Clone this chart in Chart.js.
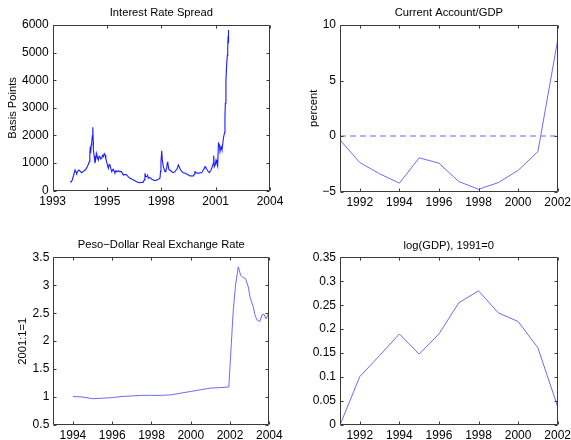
<!DOCTYPE html>
<html>
<head>
<meta charset="utf-8">
<script src="https://cdn.jsdelivr.net/npm/chart.js@4.4.1/dist/chart.umd.min.js"></script>
<style>
  html, body { margin: 0; padding: 0; background: #fff; width: 571px; height: 440px; overflow: hidden; }
  canvas { position: absolute; }
</style>
</head>
<body>
<canvas id="c1" width="285" height="220" style="left:0px;top:0px"></canvas>
<canvas id="c2" width="286" height="220" style="left:285px;top:0px"></canvas>
<canvas id="c3" width="285" height="208" style="left:0px;top:232px"></canvas>
<canvas id="c4" width="286" height="208" style="left:285px;top:232px"></canvas>
<script>
// ---------- DATA ----------
// Panel 1: Interest Rate Spread (basis points)
const spreadYears = [
  1993.88, 1993.95, 1993.99, 1994.06, 1994.13, 1994.18, 1994.21, 1994.27, 1994.33, 1994.40,
  1994.47, 1994.55, 1994.64, 1994.70, 1994.75, 1994.80, 1994.85, 1994.88, 1994.90, 1994.92,
  1994.95, 1994.97, 1995.01, 1995.03, 1995.05, 1995.06, 1995.10, 1995.14, 1995.18, 1995.21,
  1995.23, 1995.27, 1995.31, 1995.35, 1995.39, 1995.43, 1995.48, 1995.52, 1995.56, 1995.61,
  1995.65, 1995.69, 1995.73, 1995.78, 1995.82, 1995.86, 1995.90, 1995.95, 1995.99, 1996.03,
  1996.07, 1996.11, 1996.15, 1996.20, 1996.24, 1996.32, 1996.37, 1996.42, 1996.49, 1996.55,
  1996.58, 1996.66, 1996.75, 1996.83, 1996.91, 1997.00, 1997.08, 1997.17, 1997.25, 1997.33,
  1997.42, 1997.50, 1997.59, 1997.64, 1997.67, 1997.70, 1997.76, 1997.80, 1997.84, 1997.92,
  1998.01, 1998.10, 1998.18, 1998.27, 1998.35, 1998.43, 1998.46, 1998.48, 1998.52, 1998.55,
  1998.60, 1998.65, 1998.69, 1998.73, 1998.77, 1998.80, 1998.82, 1998.86, 1998.89, 1998.94,
  1999.03, 1999.11, 1999.20, 1999.28, 1999.33, 1999.36, 1999.40, 1999.45, 1999.53, 1999.61,
  1999.70, 1999.78, 1999.87, 1999.95, 2000.03, 2000.12, 2000.17, 2000.20, 2000.28, 2000.37,
  2000.45, 2000.54, 2000.62, 2000.67, 2000.71, 2000.76, 2000.80, 2000.87, 2000.93, 2001.00,
  2001.05, 2001.09, 2001.13, 2001.15, 2001.18, 2001.23, 2001.27, 2001.31, 2001.35, 2001.39,
  2001.44, 2001.47, 2001.52, 2001.57, 2001.61, 2001.64, 2001.66, 2001.70, 2001.72, 2001.74,
  2001.77, 2001.81, 2001.84, 2001.86, 2001.88, 2001.89, 2001.90, 2001.91
];
const spreadBasisPoints = [
  304, 330, 387, 560, 750, 680, 630, 700, 750, 700,
  652, 700, 750, 800, 870, 950, 1050, 1300, 1600, 1354,
  1650, 1716, 2000, 2300, 1800, 1473, 1250, 1000, 1150, 1350,
  1292, 1200, 1111, 1250, 1231, 1150, 1173, 1280, 1231, 1340,
  1292, 1150, 1050, 900, 811, 950, 930, 780, 688, 760,
  775, 700, 652, 720, 688, 724, 690, 700, 688, 600,
  568, 590, 568, 500, 449, 420, 387, 360, 326, 300,
  290, 300, 304, 400, 630, 520, 507, 560, 449, 480,
  413, 390, 362, 390, 413, 449, 700, 1050, 1448, 1100,
  869, 760, 688, 750, 811, 1000, 1050, 850, 750, 750,
  688, 652, 700, 775, 850, 930, 880, 775, 700, 652,
  630, 605, 570, 532, 540, 532, 600, 688, 650, 630,
  650, 652, 750, 800, 869, 820, 775, 700, 652, 720,
  811, 900, 992, 1270, 869, 950, 1111, 1000, 894, 1716,
  1650, 1412, 1593, 1473, 1700, 1900, 1900, 2100, 2700, 3164,
  4007, 4611, 4900, 5212, 5600, 5817, 5500, 5336
];
const spreadXTicks = [1993, 1995.75, 1998.5, 2001.25, 2004];
const spreadXLabels = ['1993', '1995', '1998', '2001', '2004'];
const spreadYTicks = [0, 1000, 2000, 3000, 4000, 5000, 6000];

// Panel 2: Current Account/GDP (percent)
const caYears = [1991, 1992, 1993, 1994, 1995, 1996, 1997, 1998, 1999, 2000, 2001, 2002];
const caPercent = [-0.35, -2.4, -3.4, -4.25, -1.97, -2.45, -4.1, -4.8, -4.2, -3.1, -1.4, 8.65];
const caZeroLine = [0, 0];
const caZeroYears = [1991, 2002];
const caXTicks = [1992, 1994, 1996, 1998, 2000, 2002];
const caYTicks = [-5, 0, 5, 10];
const caYLabels = ['\u22125', '0', '5', '10'];

// Panel 3: Peso-Dollar Real Exchange Rate (2001:1=1)
const rerYears = [
  1994.0, 1994.5, 1995.0, 1995.5, 1996.0, 1996.5, 1997.0, 1997.5, 1998.0, 1998.5,
  1999.0, 1999.5, 2000.0, 2000.5, 2001.0, 2001.5, 2001.94, 2002.16, 2002.28, 2002.42,
  2002.54, 2002.64, 2002.79, 2002.93, 2003.03, 2003.18, 2003.27, 2003.37, 2003.52, 2003.63,
  2003.73, 2003.83, 2003.95, 2004.0
];
const rerIndex = [
  1.01, 1.00, 0.97, 0.98, 0.99, 1.01, 1.02, 1.03, 1.03, 1.03,
  1.04, 1.07, 1.10, 1.13, 1.16, 1.17, 1.18, 2.53, 3.00, 3.33,
  3.18, 3.14, 3.12, 2.97, 2.77, 2.62, 2.47, 2.38, 2.35, 2.47,
  2.48, 2.40, 2.48, 2.51
];
const rerXTicks = [1994, 1996, 1998, 2000, 2002, 2004];
const rerYTicks = [0.5, 1, 1.5, 2, 2.5, 3, 3.5];

// Panel 4: log(GDP), 1991=0
const gdpYears = [1991, 1992, 1993, 1994, 1995, 1996, 1997, 1998, 1999, 2000, 2001, 2002];
const logGdp = [0, 0.101, 0.145, 0.19, 0.148, 0.19, 0.255, 0.28, 0.234, 0.216, 0.161, 0.038];
const gdpXTicks = [1992, 1994, 1996, 1998, 2000, 2002];
const gdpYTicks = [0, 0.05, 0.1, 0.15, 0.2, 0.25, 0.3, 0.35];

// ---------- RENDERING ----------
Chart.defaults.font.family = '"Liberation Sans", Arial, Helvetica, sans-serif';
Chart.defaults.color = '#000';

const TICK_FONT = 12;
const TITLE_FONT = 11.2;

const boxPlugin = {
  id: 'matlabBox',
  afterDatasetsDraw(chart) {
    const {ctx, chartArea: a} = chart;
    const xs = chart.scales.x, ys = chart.scales.y;
    ctx.save();
    ctx.strokeStyle = '#3a3a3a';
    ctx.lineWidth = 1;
    const L = Math.round(a.left) + 0.5, R = Math.round(a.right) - 0.5;
    const T = Math.round(a.top) + 0.5, B = Math.round(a.bottom) - 0.5;
    ctx.beginPath();
    ctx.rect(L, T, R - L, B - T);
    ctx.stroke();
    const tl = 3;
    ctx.beginPath();
    xs.ticks.forEach(t => {
      const px = Math.round(xs.getPixelForValue(t.value)) + 0.5;
      ctx.moveTo(px, B); ctx.lineTo(px, B - tl);
      ctx.moveTo(px, T); ctx.lineTo(px, T + tl);
    });
    ys.ticks.forEach(t => {
      const py = Math.round(ys.getPixelForValue(t.value)) + 0.5;
      ctx.moveTo(L, py); ctx.lineTo(L + tl, py);
      ctx.moveTo(R, py); ctx.lineTo(R - tl, py);
    });
    ctx.stroke();
    ctx.restore();
  }
};

function makePanel(spec) {
  const cv = document.getElementById(spec.id);
  const cw = cv.width, ch = cv.height;
  const a = spec.area; // page coords
  const relTop = a.top - spec.canvasTop;
  const relBottom = a.bottom - spec.canvasTop;
  const relLeft = a.left - spec.canvasLeft;
  const relRight = a.right - spec.canvasLeft;
  const lh = TITLE_FONT * 1.2;
  const tPadTop = (spec.titleY - spec.canvasTop) - lh / 2;
  const tPadBottom = relTop - lh - tPadTop;
  const yTitlePad = spec.yTitleX != null ? (spec.yTitleX - spec.canvasLeft) - lh / 2 : 0;

  const tickSetter = (vals) => (scale) => { scale.ticks = vals.map(v => ({value: v})); };

  return new Chart(cv, {
    type: 'scatter',
    data: {datasets: spec.datasets},
    options: {
      responsive: false,
      animation: false,
      devicePixelRatio: 1,
      layout: {padding: {left: 0, top: 0, right: cw - relRight, bottom: 0}},
      plugins: {
        legend: {display: false},
        tooltip: {enabled: false},
        title: {
          display: true,
          fullSize: false,
          text: spec.title,
          color: '#000',
          font: {size: TITLE_FONT, weight: 'normal'},
          padding: {top: tPadTop, bottom: tPadBottom}
        }
      },
      elements: {point: {radius: 0}, line: {tension: 0}},
      scales: {
        x: {
          type: 'linear',
          min: spec.xMin, max: spec.xMax,
          grid: {display: false, drawTicks: false},
          border: {display: false},
          afterBuildTicks: tickSetter(spec.xTicks),
          ticks: {
            autoSkip: false, maxRotation: 0,
            padding: 3.5,
            font: {size: TICK_FONT},
            color: '#000',
            callback: (v) => {
              const i = spec.xTicks.indexOf(v);
              return spec.xLabels ? spec.xLabels[i] : String(v);
            }
          },
          afterFit: (s) => { s.height = ch - relBottom; s.paddingLeft = 0; s.paddingRight = 0; }
        },
        y: {
          type: 'linear',
          min: spec.yMin, max: spec.yMax,
          grid: {display: false, drawTicks: false},
          border: {display: false},
          afterBuildTicks: tickSetter(spec.yTicks),
          title: spec.yTitle ? {
            display: true, text: spec.yTitle, color: '#000',
            font: {size: TITLE_FONT}, padding: {top: yTitlePad, bottom: 0}
          } : {display: false},
          ticks: {
            autoSkip: false, padding: 4,
            font: {size: TICK_FONT},
            color: '#000',
            callback: (v) => {
              const i = spec.yTicks.indexOf(v);
              return spec.yLabels ? spec.yLabels[i] : String(v);
            }
          },
          afterFit: (s) => { s.width = relLeft; s.paddingTop = 0; s.paddingBottom = 0; }
        }
      }
    },
    plugins: [boxPlugin]
  });
}

const toXY = (xs, ys) => xs.map((x, i) => ({x: x, y: ys[i]}));

makePanel({
  id: 'c1', canvasLeft: 0, canvasTop: 0,
  area: {left: 52.7, top: 25, right: 270, bottom: 190.7},
  titleY: 12.7, yTitleX: 13.3,
  title: 'Interest Rate Spread', yTitle: 'Basis Points',
  xMin: 1993, xMax: 2004, xTicks: spreadXTicks, xLabels: spreadXLabels,
  yMin: 0, yMax: 6000, yTicks: spreadYTicks,
  datasets: [{
    data: toXY(spreadYears, spreadBasisPoints), showLine: true,
    borderColor: '#1a1aff', borderWidth: 1.1, pointRadius: 0
  }]
});

makePanel({
  id: 'c2', canvasLeft: 285, canvasTop: 0,
  area: {left: 340, top: 25, right: 557.7, bottom: 191.5},
  titleY: 12.7, yTitleX: 314.3,
  title: 'Current Account/GDP', yTitle: 'percent',
  xMin: 1991, xMax: 2002, xTicks: caXTicks,
  yMin: -5, yMax: 10, yTicks: caYTicks, yLabels: caYLabels,
  datasets: [
    {data: toXY(caZeroYears, caZeroLine), showLine: true, borderColor: '#9a9aff',
     borderWidth: 1.3, borderDash: [6, 4], pointRadius: 0},
    {data: toXY(caYears, caPercent), showLine: true, borderColor: '#6b6bff',
     borderWidth: 1, pointRadius: 0}
  ]
});

makePanel({
  id: 'c3', canvasLeft: 0, canvasTop: 232,
  area: {left: 53.3, top: 257.3, right: 269.3, bottom: 425},
  titleY: 245, yTitleX: 23.3,
  title: 'Peso\u2212Dollar Real Exchange Rate', yTitle: '2001:1=1',
  xMin: 1993, xMax: 2004, xTicks: rerXTicks,
  yMin: 0.5, yMax: 3.5, yTicks: rerYTicks,
  datasets: [{
    data: toXY(rerYears, rerIndex), showLine: true,
    borderColor: '#6b6bff', borderWidth: 1, pointRadius: 0
  }]
});

makePanel({
  id: 'c4', canvasLeft: 285, canvasTop: 232,
  area: {left: 340, top: 257.3, right: 557.7, bottom: 425},
  titleY: 245.7, yTitleX: null,
  title: 'log(GDP), 1991=0', yTitle: null,
  xMin: 1991, xMax: 2002, xTicks: gdpXTicks,
  yMin: 0, yMax: 0.35, yTicks: gdpYTicks,
  datasets: [{
    data: toXY(gdpYears, logGdp), showLine: true,
    borderColor: '#6b6bff', borderWidth: 1, pointRadius: 0
  }]
});
</script>
</body>
</html>
